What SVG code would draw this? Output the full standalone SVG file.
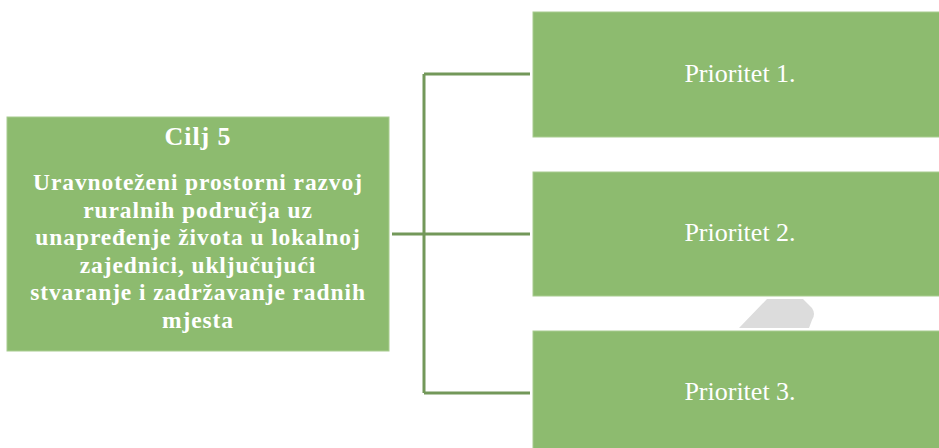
<svg xmlns="http://www.w3.org/2000/svg" width="939" height="448" viewBox="0 0 939 448">
<style>
.box{fill:#8dbb6f;stroke:#a8cc90;stroke-width:1}
.conn{fill:none;stroke:#73985a;stroke-width:3}
.t{font-family:"Liberation Serif",serif;fill:#ffffff;text-anchor:middle}
.b{font-weight:bold;font-size:23.5px;letter-spacing:0.9px}
.p{font-size:26px}
</style>
<rect width="939" height="448" fill="#ffffff"/>
<g id="connectors">
<path class="conn" d="M392 234 H424 M424 74 V393 M424 74 H530 M424 234 H530 M424 393 H530"/>
</g>
<g id="shape-grey">
<path d="M739 328 L767 299 L803 299 L812 308 Q816 314 812 320 L809 328 Z" fill="#dcdcdc"/>
</g>
<g id="goal">
<rect class="box" x="7" y="117" width="382" height="234"/>
<text class="t b" x="198" y="145" style="font-size:26px">Cilj 5</text>
<text class="t b" x="198" y="190">Uravnoteženi prostorni razvoj</text>
<text class="t b" x="198" y="217.5">ruralnih područja uz</text>
<text class="t b" x="198" y="245">unapređenje života u lokalnoj</text>
<text class="t b" x="198" y="272.5">zajednici, uključujući</text>
<text class="t b" x="198" y="300">stvaranje i zadržavanje radnih</text>
<text class="t b" x="198" y="327.5">mjesta</text>
</g>
<g id="p1">
<rect class="box" x="533" y="12" width="410" height="125"/>
<text class="t p" x="740" y="82">Prioritet 1.</text>
</g>
<g id="p2">
<rect class="box" x="533" y="172" width="410" height="124"/>
<text class="t p" x="740" y="241">Prioritet 2.</text>
</g>
<g id="p3">
<rect class="box" x="533" y="331" width="410" height="125"/>
<text class="t p" x="740" y="400">Prioritet 3.</text>
</g>
</svg>
